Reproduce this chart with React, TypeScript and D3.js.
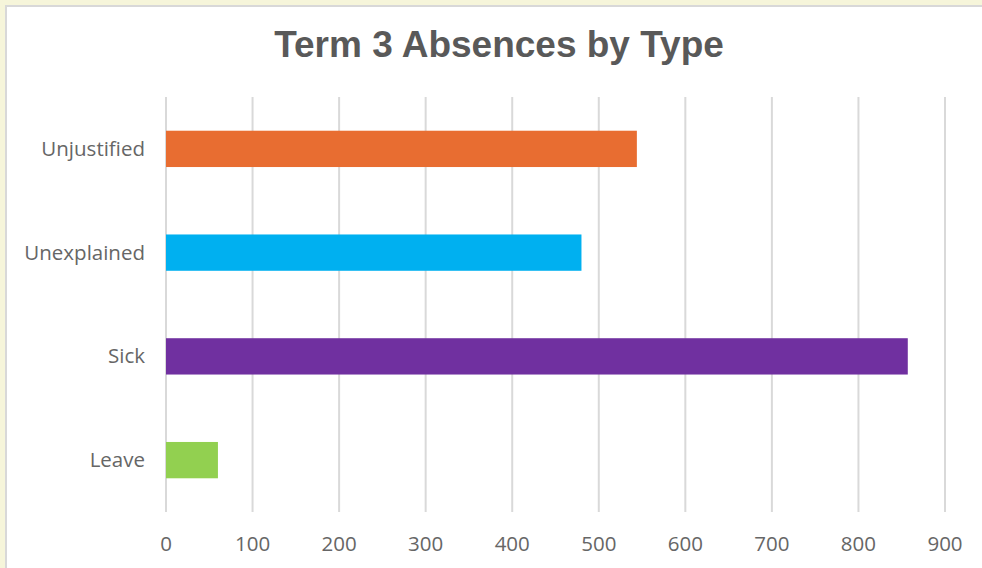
import * as d3 from 'd3';
import { useEffect, useRef } from 'react';

const categories = ['Unjustified', 'Unexplained', 'Sick', 'Leave'];
const values = [544, 480, 857, 60];
const colors = ['#E86D31', '#00B0F0', '#7030A0', '#92D050'];
const ticks = [0, 100, 200, 300, 400, 500, 600, 700, 800, 900];

const App = () => {
  const ref = useRef<SVGSVGElement | null>(null);

  useEffect(() => {
    const width = 982;
    const height = 568;
    const svg = d3.select(ref.current).attr('width', width).attr('height', height);
    svg.selectAll('*').remove();

    // page background and chart card
    svg.append('rect').attr('width', width).attr('height', height).attr('fill', '#F6F5DA');
    svg
      .append('rect')
      .attr('x', 6)
      .attr('y', 6)
      .attr('width', width)
      .attr('height', height)
      .attr('fill', '#ffffff')
      .attr('stroke', '#d8d8d8')
      .attr('stroke-width', 2);

    const x = d3.scaleLinear().domain([0, 900]).range([166, 945]);
    const y = d3.scaleBand().domain(categories).range([97, 512]).paddingInner(0.65).paddingOuter(0.325);

    // vertical gridlines
    svg
      .append('g')
      .selectAll('line')
      .data(ticks)
      .join('line')
      .attr('x1', (d) => x(d))
      .attr('x2', (d) => x(d))
      .attr('y1', 97)
      .attr('y2', 512)
      .attr('stroke', '#d9d9d9')
      .attr('stroke-width', 2);

    // bars
    svg
      .append('g')
      .selectAll('rect')
      .data(categories)
      .join('rect')
      .attr('x', x(0))
      .attr('y', (d) => y(d) as number)
      .attr('width', (_, i) => x(values[i]) - x(0))
      .attr('height', y.bandwidth())
      .attr('fill', (_, i) => colors[i]);

    // x tick labels
    svg
      .append('g')
      .selectAll('text')
      .data(ticks)
      .join('text')
      .attr('x', (d) => x(d))
      .attr('y', 551)
      .attr('text-anchor', 'middle')
      .attr('font-family', 'Open Sans, sans-serif')
      .attr('font-size', 20.5)
      .attr('fill', '#666666')
      .text((d) => d);

    // category labels
    svg
      .append('g')
      .selectAll('text')
      .data(categories)
      .join('text')
      .attr('x', 145)
      .attr('y', (d) => (y(d) as number) + y.bandwidth() / 2 + 7)
      .attr('text-anchor', 'end')
      .attr('font-family', 'Open Sans, sans-serif')
      .attr('font-size', 20.5)
      .attr('fill', '#666666')
      .text((d) => d);

    // title
    svg
      .append('text')
      .attr('x', 499)
      .attr('y', 57)
      .attr('text-anchor', 'middle')
      .attr('font-family', 'Liberation Sans, Arial, sans-serif')
      .attr('font-weight', 'bold')
      .attr('font-size', 37)
      .attr('fill', '#595959')
      .text('Term 3 Absences by Type');
  }, []);

  return <svg ref={ref} style={{ position: 'absolute', left: 0, top: 0 }}></svg>;
};

export default App;
